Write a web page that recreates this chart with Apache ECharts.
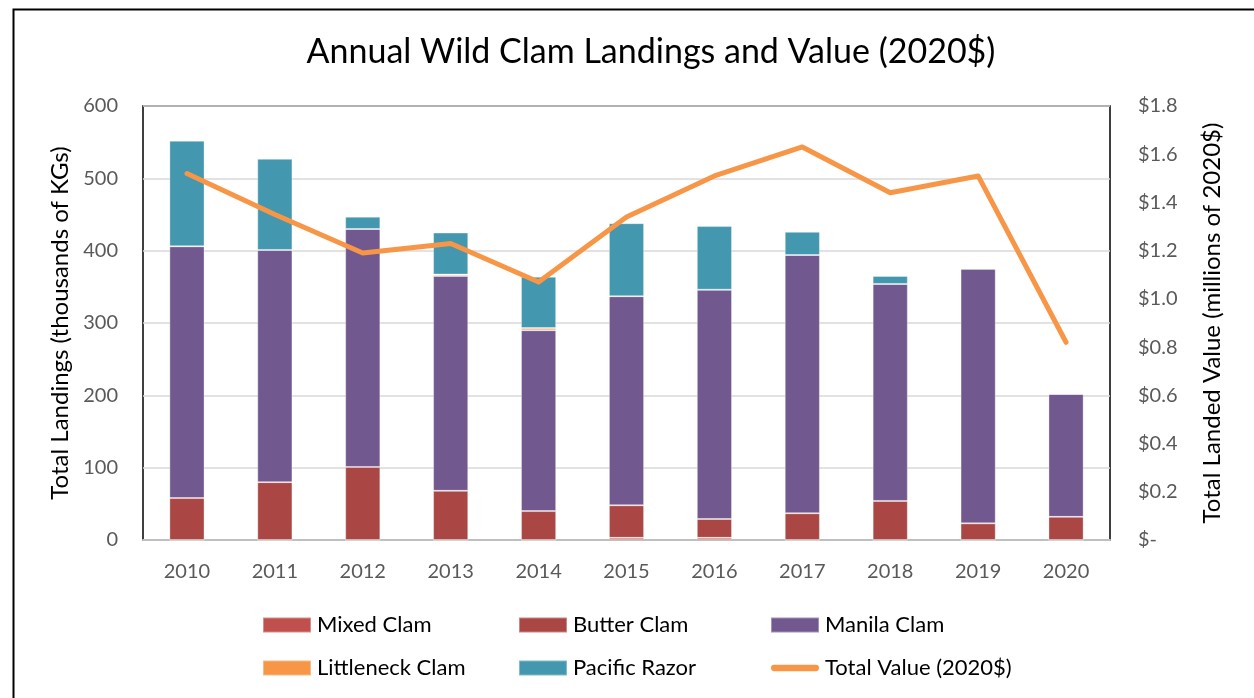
<!DOCTYPE html>
<html>
<head>
<meta charset="utf-8">
<script src="https://cdn.jsdelivr.net/npm/echarts@6/dist/echarts.min.js"></script>
<style>
  html, body { margin: 0; padding: 0; background: #fff; }
  #chart { width: 1254px; height: 698px; }
</style>
</head>
<body>
<div id="chart"></div>
<script>
// data
const years = ['2010', '2011', '2012', '2013', '2014', '2015', '2016', '2017', '2018', '2019', '2020']
const mixedClam = [0, 0, 0, 0, 0, 3, 3, 0, 0, 0, 0]
const butterClam = [58, 80, 101, 68, 40, 45, 26, 37, 54, 23, 32]
const manilaClam = [348, 321, 329, 297, 250, 289, 317, 357, 300, 352, 170]
const littleneckClam = [0, 0, 0, 2, 3, 0, 0, 0, 0, 0, 0]
const pacificRazor = [146, 126, 17, 58, 71, 101, 88, 32, 11, 0, 0]
const totalValue = [1.52, 1.35, 1.19, 1.23, 1.07, 1.34, 1.51, 1.63, 1.44, 1.51, 0.82]

const font = 'Lato, "Open Sans", sans-serif'
const chart = echarts.init(document.getElementById('chart'))

const barSeries = (name, data, color) => ({
    name: name,
    type: 'bar',
    stack: 'landings',
    data: data,
    barWidth: '40%',
    itemStyle: { color: color, borderColor: 'rgba(255,255,255,0.35)', borderWidth: 1 }
})

const legendBox = (left, names) => ({
    left: left,
    top: 609,
    orient: 'vertical',
    itemGap: 21,
    itemWidth: 48,
    itemHeight: 15,
    icon: 'rect',
    textStyle: { fontFamily: font, fontSize: 22, color: '#000', padding: [0, 0, 0, 1] },
    data: names
})

const option = {
    animation: false,
    textStyle: { fontFamily: font },
    title: {
        text: 'Annual Wild Clam Landings and Value (2020$)',
        left: 646,
        textAlign: 'center',
        top: 30,
        textStyle: { fontFamily: font, fontSize: 34, fontWeight: 'normal', color: '#000' }
    },
    graphic: [{
        type: 'rect',
        left: 11,
        top: 7,
        shape: { width: 1260, height: 700 },
        style: { fill: 'none', stroke: '#000', lineWidth: 2 }
    }],
    legend: [
        legendBox(257, ['Mixed Clam', 'Littleneck Clam']),
        legendBox(513, ['Butter Clam', 'Pacific Razor']),
        legendBox(765, ['Manila Clam', {
            name: 'Total Value (2020$)',
            icon: 'path://M3,0H43A3,3,0,0,1,43,6H3A3,3,0,0,1,3,0Z'
        }])
    ],
    grid: {
        left: 143,
        right: 144,
        top: 106,
        bottom: 158,
        show: true,
        borderColor: '#000',
        borderWidth: 1.5
    },
    xAxis: {
        type: 'category',
        data: years,
        axisTick: { show: false },
        axisLine: { lineStyle: { color: '#bfbfbf', width: 2 } },
        axisLabel: { fontSize: 20, color: '#595959', margin: 22, fontFamily: font }
    },
    yAxis: [
        {
            type: 'value',
            min: 0,
            max: 600,
            interval: 100,
            name: 'Total Landings (thousands of KGs)',
            nameLocation: 'middle',
            nameGap: 70,
            nameTextStyle: { fontSize: 24, color: '#000', fontFamily: font },
            axisLabel: { fontSize: 20, color: '#595959', margin: 25, fontFamily: font },
            splitLine: { lineStyle: { color: '#d9d9d9', width: 1.5 } }
        },
        {
            type: 'value',
            min: 0,
            max: 1.8,
            interval: 0.2,
            name: 'Total Landed Value (millions of 2020$)',
            nameLocation: 'middle',
            nameGap: 90,
            nameTextStyle: { fontSize: 24, color: '#000', fontFamily: font },
            axisLabel: {
                fontSize: 20,
                color: '#595959',
                margin: 28,
                fontFamily: font,
                formatter: v => v === 0 ? '$-' : '$' + v.toFixed(1)
            },
            splitLine: { show: false }
        }
    ],
    series: [
        barSeries('Mixed Clam', mixedClam, '#c0504d'),
        barSeries('Butter Clam', butterClam, '#aa4744'),
        barSeries('Manila Clam', manilaClam, '#71588f'),
        barSeries('Littleneck Clam', littleneckClam, '#f79646'),
        barSeries('Pacific Razor', pacificRazor, '#4397ae'),
        {
            name: 'Total Value (2020$)',
            type: 'line',
            yAxisIndex: 1,
            data: totalValue,
            symbol: 'none',
            itemStyle: { color: '#f79646' },
            lineStyle: { color: '#f79646', width: 5, cap: 'round', join: 'round' }
        }
    ]
}

chart.setOption(option)
</script>
</body>
</html>
